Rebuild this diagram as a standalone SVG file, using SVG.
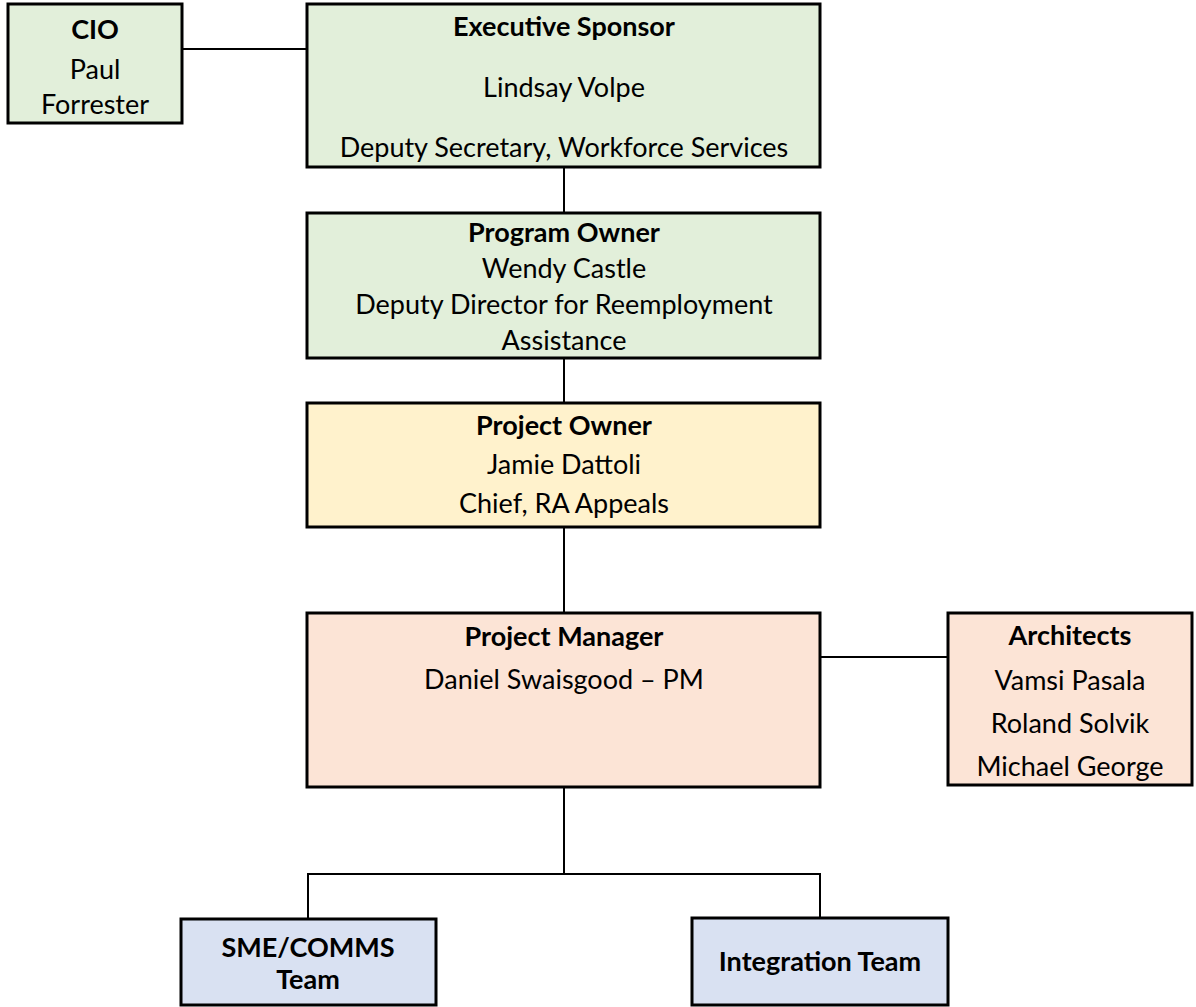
<svg xmlns="http://www.w3.org/2000/svg" width="1196" height="1007" viewBox="0 0 1196 1007">
<style>
.box{stroke:#000;stroke-width:3}
.g{fill:#E2EFDA}.y{fill:#FFF2CC}.p{fill:#FCE4D6}.b{fill:#D9E1F2}
text{font-family:Lato,"Liberation Sans",sans-serif;font-size:27px;fill:#000;text-anchor:middle}
.t{font-weight:bold}
.c line{stroke:#000;stroke-width:2}
</style>
<rect width="1196" height="1007" fill="#fff"/>
<g class="c" id="connectors">
<line x1="182" y1="49" x2="307" y2="49"/>
<line x1="564" y1="167" x2="564" y2="213"/>
<line x1="564" y1="358" x2="564" y2="403"/>
<line x1="564" y1="527" x2="564" y2="613"/>
<line x1="820" y1="657" x2="948" y2="657"/>
<line x1="564" y1="787" x2="564" y2="874"/>
<line x1="307" y1="874" x2="821" y2="874"/>
<line x1="308" y1="874" x2="308" y2="919"/>
<line x1="820" y1="874" x2="820" y2="918"/>
</g>
<g id="cio">
<rect class="box g" x="8" y="4" width="174" height="119"/>
<text class="t" x="95" y="39">CIO</text>
<text x="95" y="79">Paul</text>
<text x="95" y="114">Forrester</text>
</g>
<g id="exec-sponsor">
<rect class="box g" x="307" y="4" width="513" height="163"/>
<text class="t" x="564" y="36">Executive Sponsor</text>
<text x="564" y="97">Lindsay Volpe</text>
<text x="564" y="157">Deputy Secretary, Workforce Services</text>
</g>
<g id="program-owner">
<rect class="box g" x="307" y="213" width="513" height="145"/>
<text class="t" x="564" y="242">Program Owner</text>
<text x="564" y="278">Wendy Castle</text>
<text x="564" y="314">Deputy Director for Reemployment</text>
<text x="564" y="350">Assistance</text>
</g>
<g id="project-owner">
<rect class="box y" x="307" y="403" width="513" height="124"/>
<text class="t" x="564" y="435">Project Owner</text>
<text x="564" y="474">Jamie Dattoli</text>
<text x="564" y="513">Chief, RA Appeals</text>
</g>
<g id="project-manager">
<rect class="box p" x="307" y="613" width="513" height="174"/>
<text class="t" x="564" y="646">Project Manager</text>
<text x="564" y="689">Daniel Swaisgood – PM</text>
</g>
<g id="architects">
<rect class="box p" x="948" y="613" width="244" height="172"/>
<text class="t" x="1070" y="645">Architects</text>
<text x="1070" y="690">Vamsi Pasala</text>
<text x="1070" y="733">Roland Solvik</text>
<text x="1070" y="776">Michael George</text>
</g>
<g id="sme-comms">
<rect class="box b" x="181" y="919" width="255" height="86"/>
<text class="t" x="308" y="957">SME/COMMS</text>
<text class="t" x="308" y="989">Team</text>
</g>
<g id="integration">
<rect class="box b" x="692" y="918" width="256" height="87"/>
<text class="t" x="820" y="971">Integration Team</text>
</g>
</svg>
